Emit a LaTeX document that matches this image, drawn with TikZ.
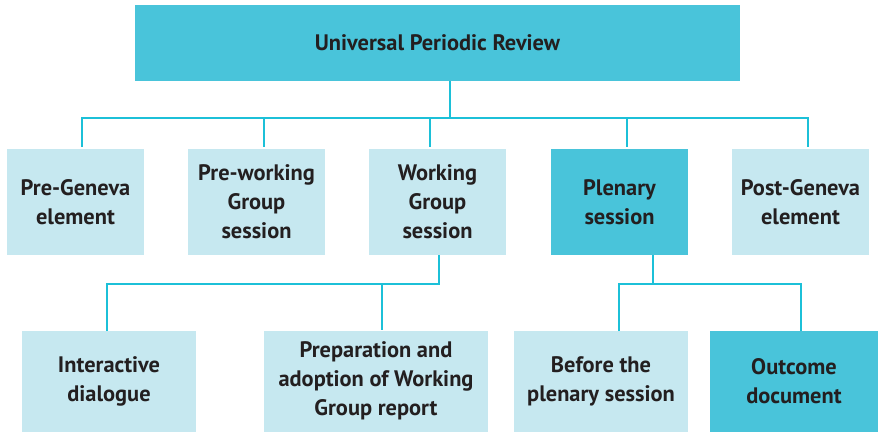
\documentclass[tikz,border=0pt]{standalone}
\usepackage{fontspec}
\setmainfont{PT Sans}
\begin{document}
\begin{tikzpicture}[x=1pt,y=-1pt,
  font=\fontsize{22.4}{29}\selectfont\bfseries,
  box/.style={draw=none,align=center,text=txt,inner sep=0pt,anchor=center},
  lightbox/.style={box,fill=lightfill},
  darkbox/.style={box,fill=darkfill},
  conn/.style={draw=linec,line width=2pt}]
\definecolor{darkfill}{HTML}{49C4DA}
\definecolor{lightfill}{HTML}{C6E8F0}
\definecolor{linec}{HTML}{1CC0D8}
\definecolor{txt}{HTML}{231F20}
\useasboundingbox (0,0) rectangle (878,431);
% boxes
\node[darkbox,minimum width=605pt,minimum height=76pt] (top) at (437.5,43) {Universal Periodic Review};
\node[lightbox,minimum width=137pt,minimum height=106pt] (pg) at (75.5,202) {Pre-Geneva\\element};
\node[lightbox,minimum width=137pt,minimum height=106pt] (pw) at (256.5,202) {Pre-working\\Group\\session};
\node[lightbox,minimum width=137pt,minimum height=106pt] (wg) at (437.5,202) {Working\\Group\\session};
\node[darkbox,minimum width=137pt,minimum height=106pt] (pl) at (619.5,202) {Plenary\\session};
\node[lightbox,minimum width=137pt,minimum height=106pt] (po) at (800.5,202) {Post-Geneva\\element};
\node[lightbox,minimum width=174pt,minimum height=101pt] (ia) at (109,381.5) {Interactive\\dialogue};
\node[lightbox,minimum width=224pt,minimum height=101pt] (pr) at (376,381) {Preparation and\\adoption of Working\\Group report};
\node[lightbox,minimum width=174pt,minimum height=101pt] (bp) at (601,381.5) {Before the\\plenary session};
\node[darkbox,minimum width=168pt,minimum height=101pt] (oc) at (794,381.5) {Outcome\\document};
% connector coordinates
\coordinate (t0) at (449.5,118);
\coordinate (tl) at (82,118);
\coordinate (tr) at (808,118);
\coordinate (d2) at (264,118);
\coordinate (d3) at (430,118);
\coordinate (d4) at (627,118);
\coordinate (w0) at (439,284);
\coordinate (wl) at (107,284);
\coordinate (w2) at (382,284);
\coordinate (p0) at (653,284);
\coordinate (pl1) at (619,284);
\coordinate (pr1) at (801,284);
% top tree
\draw[conn] (top.south -| t0) -- (t0);
\draw[conn] ([yshift=2pt]pg.north -| tl) -- (tl) -- (tr) -- ([yshift=2pt]po.north -| tr);
\draw[conn] (d2) -- ([yshift=2pt]pw.north -| d2);
\draw[conn] (d3) -- ([yshift=2pt]wg.north -| d3);
\draw[conn] (d4) -- ([yshift=2pt]pl.north -| d4);
% working group tree
\draw[conn] (wg.south -| w0) -- (w0) -- (wl) -- (ia.north -| wl);
\draw[conn] (w2) -- (pr.north -| w2);
% plenary tree
\draw[conn] (pl.south -| p0) -- (p0);
\draw[conn] (bp.north -| pl1) -- (pl1) -- (pr1) -- (oc.north -| pr1);
\end{tikzpicture}
\end{document}
